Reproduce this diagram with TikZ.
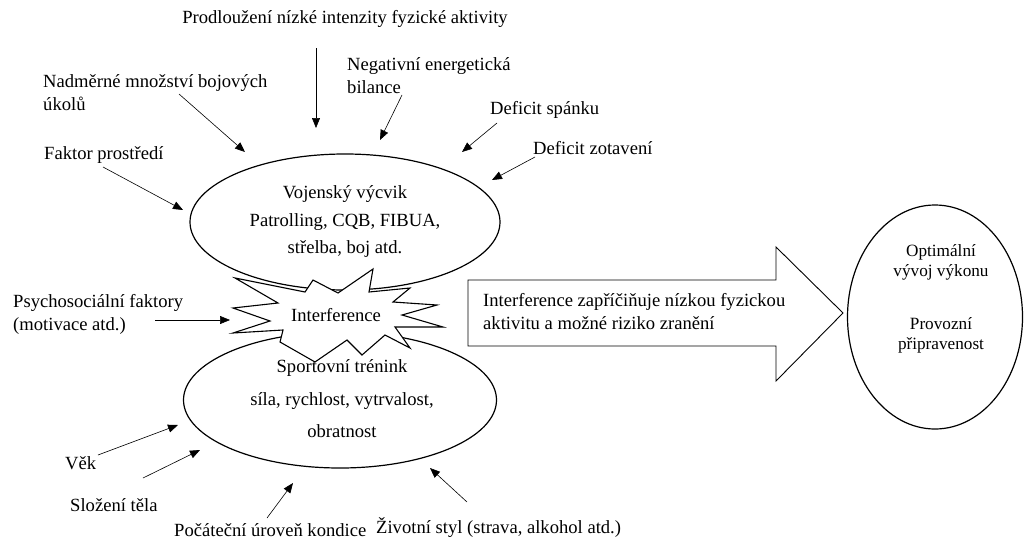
\documentclass[tikz,border=0pt]{standalone}
\usepackage{fontspec}
\setmainfont{Liberation Serif}
\usetikzlibrary{shapes.geometric,arrows.meta}
\begin{document}
\begin{tikzpicture}[x=1pt,y=-1pt,
  every node/.style={font=\fontsize{18.6}{23}\selectfont, inner sep=0pt},
  lbl/.style={anchor=west, align=left},
  blob/.style={draw, line width=1.2pt, ellipse, fill=white, align=center},
  factor/.style={draw, line width=0.6pt, -{Triangle[length=10pt,width=8pt]}},
  outline/.style={draw, line width=1.1pt, fill=white, line join=miter}
]
\useasboundingbox (0,0) rectangle (1025,541);

% two training ellipses
\node[blob, minimum width=310pt, minimum height=136pt,
      font=\fontsize{18.6}{27.5}\selectfont] (mil) at (345,222)
  {Vojenský výcvik\\Patrolling, CQB, FIBUA,\\střelba, boj atd.};
\node[blob, minimum width=313pt, minimum height=136pt] (spo) at (340,400) {};

% interference burst
\draw[outline] (235,278) -- (305,292) -- (313,280) -- (338,293) -- (373,269)
  -- (369,292) -- (410,288) -- (393,302) -- (437,305) -- (402,315)
  -- (443,327) -- (395,327) -- (410,348) -- (385,335) -- (362,355)
  -- (347,340) -- (315,362) -- (280,342) -- (283,330) -- (233,333)
  -- (270,321) -- (233,308) -- (278,303) -- cycle;
\node (intf) at (336,315) {Interference};

% text of the sport ellipse
\node (spo1) at (342,368) {Sportovní trénink};
\node (spo2) at (342,401) {síla, rychlost, vytrvalost,};
\node (spo3) at (342,431) {obratnost};

% outcome ellipse
\node[blob, minimum width=175pt, minimum height=224pt] (out) at (935,317) {};
\node[align=center, font=\fontsize{17.2}{20}\selectfont] (opt) at (941,262) {Optimální\\vývoj výkonu};
\node[align=center, font=\fontsize{17.2}{20}\selectfont] (pro) at (941,335) {Provozní\\připravenost};

% block arrow
\draw[outline, line width=0.9pt] (468,280) -- (776,280) -- (776,247) -- (843,313)
  -- (776,381) -- (776,346) -- (468,346) -- cycle;
\node[lbl] (msg) at (483,312) {Interference zapříčiňuje nízkou fyzickou\\aktivitu a možné riziko zranění};

% influencing factors
\node (f1) at (345,19) {Prodloužení nízké intenzity fyzické aktivity};
\node[lbl] (f2) at (43,93) {Nadměrné množství bojových\\úkolů};
\node[lbl] (f3) at (347,76) {Negativní energetická\\bilance};
\node[lbl] (f4) at (490,110) {Deficit spánku};
\node[lbl] (f5) at (533,148) {Deficit zotavení};
\node[lbl] (f6) at (44,155) {Faktor prostředí};
\node[lbl] (f7) at (13,314) {Psychosociální faktory\\(motivace atd.)};
\node[lbl] (f8) at (65,463) {Věk};
\node[lbl] (f9) at (70,505) {Složení těla};
\node[lbl] (f10) at (174,530) {Počáteční úroveň kondice};
\node[lbl] (f11) at (376,528) {Životní styl (strava, alkohol atd.)};

% arrow ends
\coordinate (t1) at (316,48);  \coordinate (h1) at (316,128);
\coordinate (t2) at (179,94);  \coordinate (h2) at (245,152);
\coordinate (t3) at (402,95);  \coordinate (h3) at (380,140);
\coordinate (t4) at (497,123); \coordinate (h4) at (462,152);
\coordinate (t5) at (535,157); \coordinate (h5) at (492,180);
\coordinate (t6) at (103,167); \coordinate (h6) at (183,210);
\coordinate (t7) at (155,320); \coordinate (h7) at (230,320);
\coordinate (t8) at (98,455);  \coordinate (h8) at (178,425);
\coordinate (t9) at (143,478); \coordinate (h9) at (200,450);
\coordinate (t10) at (267,518); \coordinate (h10) at (293,483);
\coordinate (t11) at (467,502); \coordinate (h11) at (430,468);

\foreach \i in {1,...,11} \draw[factor] (t\i) -- (h\i);
\end{tikzpicture}
\end{document}
